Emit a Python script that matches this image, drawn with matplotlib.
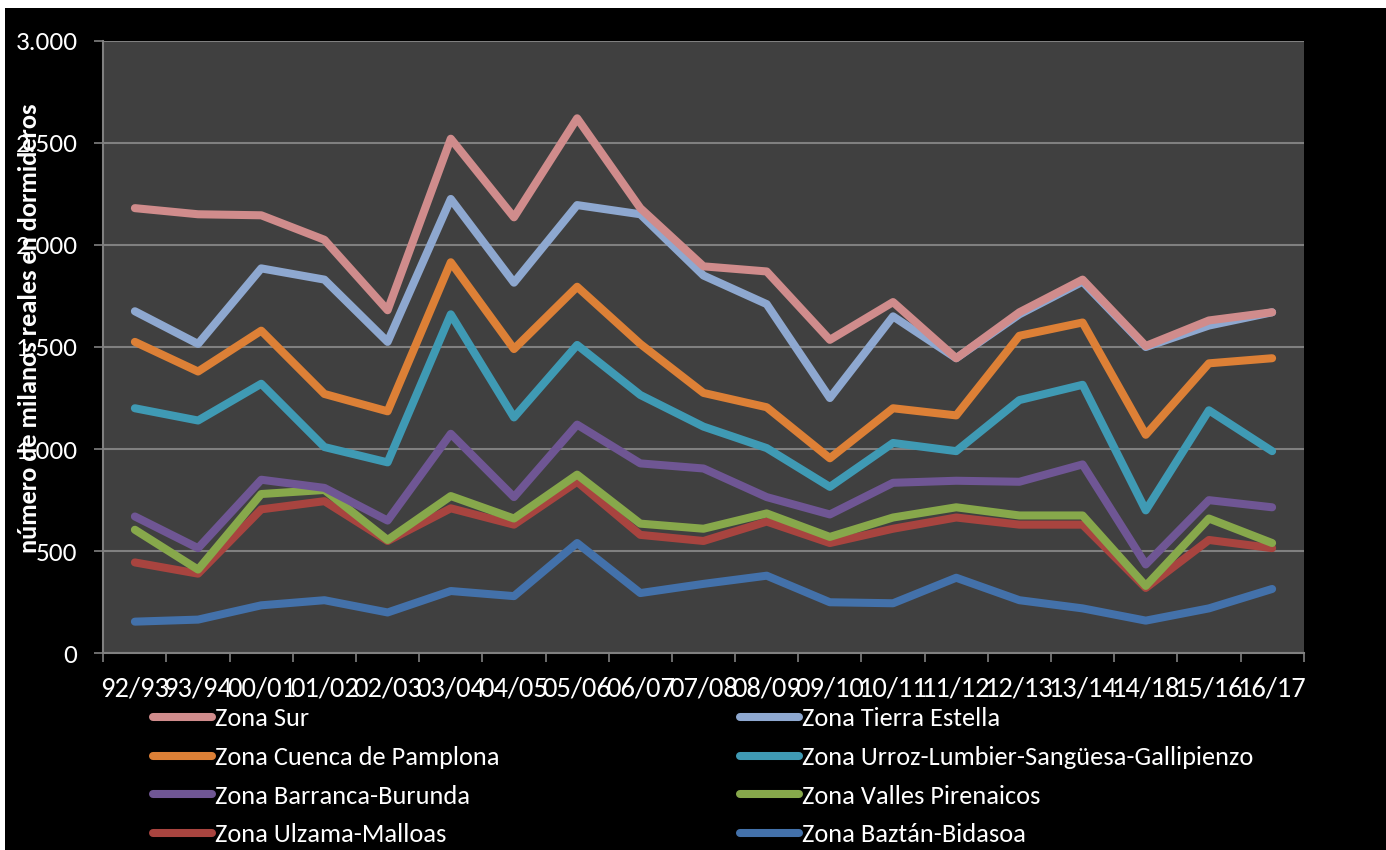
import numpy as np
import matplotlib.pyplot as plt
from matplotlib.patches import Rectangle
from matplotlib.ticker import FuncFormatter

plt.rcParams['font.family'] = ['Carlito', 'Lato', 'DejaVu Sans']

temporadas = ['92/93', '93/94', '00/01', '01/02', '02/03', '03/04', '04/05',
              '05/06', '06/07', '07/08', '08/09', '09/10', '10/11', '11/12',
              '12/13', '13/14', '14/18', '15/16', '16/17']

zona_sur = [2180, 2150, 2145, 2025, 1680, 2520, 2135, 2620, 2180, 1895,
            1870, 1535, 1720, 1445, 1670, 1830, 1505, 1630, 1670]
zona_tierra_estella = [1675, 1515, 1885, 1830, 1525, 2225, 1815, 2195, 2150, 1850,
                       1710, 1250, 1650, 1445, 1660, 1820, 1500, 1605, 1670]
zona_cuenca = [1525, 1380, 1580, 1270, 1185, 1915, 1490, 1795, 1515, 1275,
               1205, 955, 1200, 1165, 1555, 1620, 1070, 1420, 1445]
zona_urroz = [1200, 1140, 1320, 1010, 935, 1660, 1155, 1510, 1265, 1110,
              1005, 815, 1030, 990, 1240, 1315, 700, 1190, 990]
zona_barranca = [670, 515, 850, 810, 650, 1075, 765, 1120, 930, 905,
                 765, 680, 835, 845, 840, 925, 435, 750, 715]
zona_valles = [605, 410, 780, 800, 555, 770, 660, 875, 635, 610,
               685, 570, 665, 715, 675, 675, 330, 660, 540]
zona_ulzama = [445, 390, 705, 745, 550, 710, 630, 840, 580, 550,
               645, 540, 610, 665, 630, 630, 320, 555, 515]
zona_baztan = [155, 165, 235, 260, 200, 305, 280, 540, 295, 340,
               380, 250, 245, 370, 260, 220, 160, 220, 315]

nombres = ['Zona Sur', 'Zona Tierra Estella', 'Zona Cuenca de Pamplona',
           'Zona Urroz-Lumbier-Sangüesa-Gallipienzo', 'Zona Barranca-Burunda',
           'Zona Valles Pirenaicos', 'Zona Ulzama-Malloas', 'Zona Baztán-Bidasoa']
series = [zona_sur, zona_tierra_estella, zona_cuenca, zona_urroz,
          zona_barranca, zona_valles, zona_ulzama, zona_baztan]
colores = ['#D08C8C', '#8EA8D0', '#DD8036', '#3F9AB4',
           '#6F5694', '#87A84B', '#A8443F', '#4371AA']

fig = plt.figure(figsize=(13.86, 8.5), dpi=100)
fig.patch.set_facecolor('white')
# fondo negro del gráfico (margen blanco arriba y a la izquierda)
fig.patches.append(Rectangle((5 / 1386, 0), 1, 1 - 8 / 850, transform=fig.transFigure,
                             facecolor='black', edgecolor='none', zorder=-10))

ax = fig.add_axes([103.3 / 1386, 1 - 653.3 / 850, 1200.4 / 1386, 612.6 / 850])
ax.set_facecolor('#404040')

x = np.arange(len(temporadas))
lineas = []
for i, (vals, nom, col) in enumerate(zip(series, nombres, colores)):
    ln, = ax.plot(x, vals, color=col, lw=5.8, solid_capstyle='round',
                  solid_joinstyle='round', label=nom, zorder=20 - i)
    lineas.append(ln)

ax.set_xlim(-0.5, len(temporadas) - 0.5)
ax.set_ylim(0, 3000)
ax.set_yticks(np.arange(0, 3001, 500))
ax.yaxis.set_major_formatter(FuncFormatter(lambda v, p: f'{int(v):,}'.replace(',', '.')))
ax.set_xticks(x)
ax.set_xticklabels(temporadas)
ax.set_xticks(np.arange(-0.5, len(temporadas)), minor=True)
ax.tick_params(axis='x', which='major', length=0, pad=17, labelsize=20.5, colors='white')
ax.tick_params(axis='x', which='minor', length=6.5, width=1.2, color='#808080')
ax.tick_params(axis='y', length=6.5, width=1.2, color='#808080', labelsize=19.5,
               labelcolor='white', pad=12)
ax.grid(axis='y', color='#808080', lw=1.5)
ax.set_axisbelow(True)
for s in ['top', 'right']:
    ax.spines[s].set_visible(False)
for s in ['left', 'bottom']:
    ax.spines[s].set_color('#808080')
    ax.spines[s].set_linewidth(1.5)

fig.text(30 / 1386, 1 - 328 / 850, 'número de milanos reales en dormideros',
         rotation=90, ha='center', va='center', color='white',
         fontsize=19, fontweight='bold')

# leyenda en dos columnas
izq = [0, 2, 4, 6]
der = [1, 3, 5, 7]
kw = dict(frameon=False, fontsize=19, labelcolor='white', handlelength=2.25,
          handletextpad=0.1, labelspacing=0.6, borderaxespad=0, borderpad=0)
leg1 = fig.legend([lineas[i] for i in izq], [nombres[i] for i in izq],
                  loc='upper left', bbox_to_anchor=(153 / 1386, 1 - 707 / 850), **kw)
leg2 = fig.legend([lineas[i] for i in der], [nombres[i] for i in der],
                  loc='upper left', bbox_to_anchor=(740 / 1386, 1 - 707 / 850), **kw)

fig.savefig('out.png', dpi=100, facecolor=fig.get_facecolor())
